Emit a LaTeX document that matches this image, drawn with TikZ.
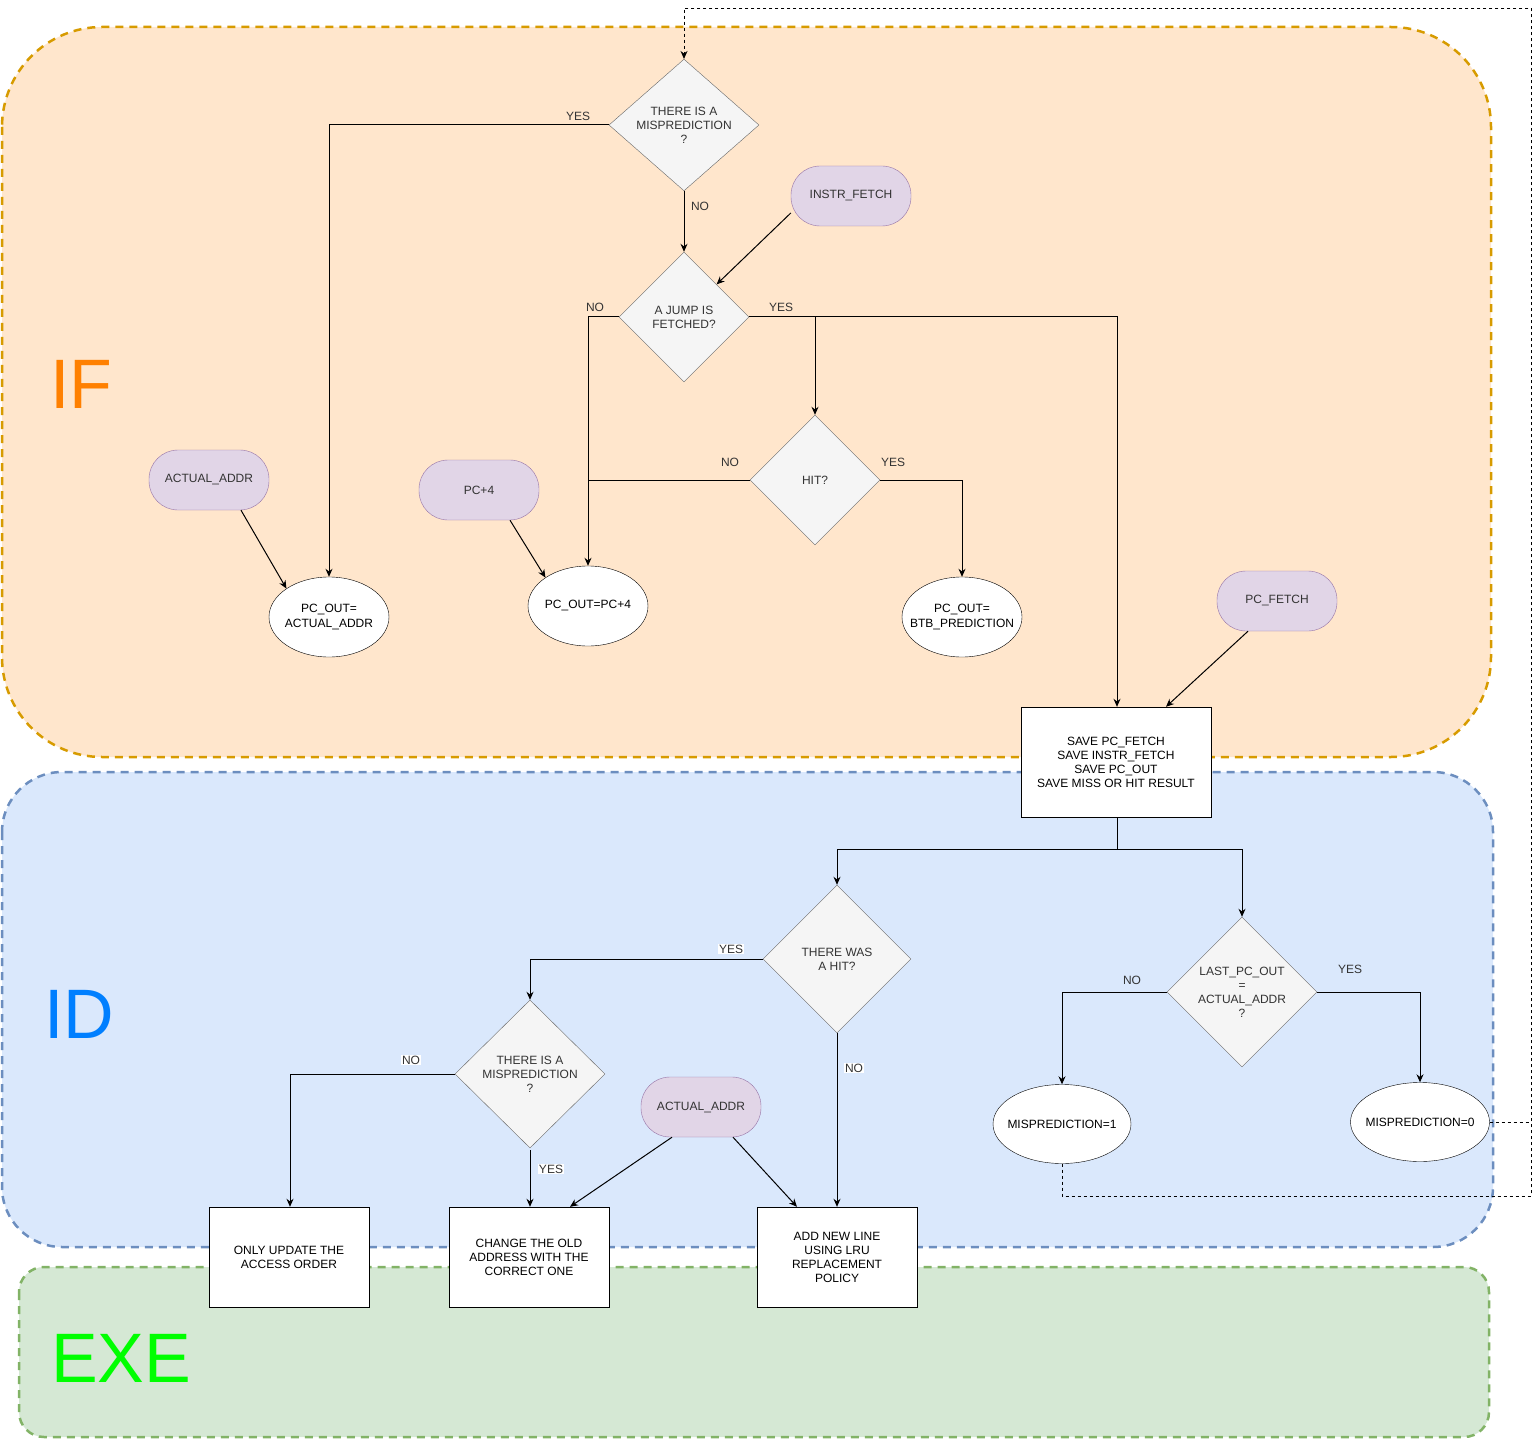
\documentclass[tikz,border=0pt]{standalone}
\usepackage{fontspec}
\setmainfont{Liberation Sans}
\usetikzlibrary{shapes.geometric,arrows.meta,calc}
\definecolor{iffill}{HTML}{FFE6CC}
\definecolor{ifdraw}{HTML}{D79B00}
\definecolor{idfill}{HTML}{DAE8FC}
\definecolor{iddraw}{HTML}{6C8EBF}
\definecolor{exfill}{HTML}{D5E8D4}
\definecolor{exdraw}{HTML}{82B366}
\definecolor{dfill}{HTML}{F5F5F5}
\definecolor{ddraw}{HTML}{666666}
\definecolor{tgray}{HTML}{333333}
\definecolor{pfill}{HTML}{E1D5E7}
\definecolor{pdraw}{HTML}{9673A6}
\definecolor{ifcol}{HTML}{FF8000}
\definecolor{idcol}{HTML}{007FFF}
\definecolor{excol}{HTML}{00FF00}
\begin{document}
\begin{tikzpicture}[x=1pt,y=-1pt,
  font=\fontsize{12}{14}\selectfont,
  lane/.style={line width=2.5pt, dash pattern=on 8pt off 6pt},
  dia/.style={diamond, draw=ddraw, fill=dfill, text=tgray, inner sep=0pt, align=center},
  pill/.style={rectangle, rounded corners=29pt, draw=pdraw, fill=pfill, text=tgray, minimum width=120pt, minimum height=60pt, inner sep=0pt},
  ell/.style={ellipse, draw=black, fill=white, text=black, inner xsep=-16pt, inner ysep=0pt, align=center, minimum width=120pt, minimum height=80pt},
  box/.style={rectangle, draw=black, fill=white, text=black, inner sep=0pt, align=center},
  arr/.style={draw=black, line width=1pt, -{Stealth[length=8pt,width=7pt]}},
  ln/.style={draw=black, line width=1pt},
  dot/.style={draw=black, line width=0.9pt, dash pattern=on 3pt off 3pt},
  lbl/.style={text=tgray, inner sep=1pt},
  wlbl/.style={text=tgray, fill=white, inner sep=1pt},
  big/.style={font=\fontsize{70}{76}\selectfont, anchor=base west, inner sep=0pt}
]
\useasboundingbox (0,0) rectangle (1540,1439);

% swimlanes
\draw[lane, draw=ifdraw, fill=iffill, rounded corners=100pt] (2,27) rectangle (1491,757);
\draw[lane, draw=iddraw, fill=idfill, rounded corners=60pt] (2,772) rectangle (1493,1247);
\draw[lane, draw=exdraw, fill=exfill, rounded corners=25pt] (19,1267) rectangle (1489,1437);
\node[big, text=ifcol] (tif) at (50,408) {IF};
\node[big, text=idcol] (tid) at (44,1038) {ID};
\node[big, text=excol] (tex) at (51,1382) {EXE};

% IF nodes
\node[dia, minimum width=150pt, minimum height=128pt] (d1) at (684,125) {THERE IS A\\MISPREDICTION\\?};
\node[dia, minimum width=130pt, minimum height=130pt] (d2) at (684,317) {A JUMP IS\\FETCHED?};
\node[pill] (instr) at (851,196) {INSTR\_FETCH};
\node[dia, minimum width=130pt, minimum height=130pt] (d3) at (815,480) {HIT?};
\node[pill] (aa) at (209,480) {ACTUAL\_ADDR};
\node[pill] (p4) at (479,490) {PC+4};
\node[ell] (pa) at (329,617) {PC\_OUT=\\ACTUAL\_ADDR};
\node[ell] (pp4) at (588,606) {PC\_OUT=PC+4};
\node[ell] (btb) at (962,617) {PC\_OUT=\\BTB\_PREDICTION};
\node[pill] (pf) at (1277,601) {PC\_FETCH};
\node[box, minimum width=190pt, minimum height=110pt] (save) at (1116,762) {SAVE PC\_FETCH\\SAVE INSTR\_FETCH\\SAVE PC\_OUT\\SAVE MISS OR HIT RESULT};

% ID nodes
\node[dia, minimum width=148pt, minimum height=148pt] (d4) at (837,959) {THERE WAS\\A HIT?};
\node[dia, minimum width=150pt, minimum height=150pt] (d5) at (1242,992) {LAST\_PC\_OUT\\=\\ACTUAL\_ADDR\\?};
\node[ell, minimum width=138pt, minimum height=79pt] (m1) at (1062,1124) {MISPREDICTION=1};
\node[ell, minimum width=139pt, minimum height=79pt] (m0) at (1420,1122) {MISPREDICTION=0};
\node[dia, minimum width=150pt, minimum height=148pt] (d6) at (530,1074) {THERE IS A\\MISPREDICTION\\?};
\node[pill] (aid) at (701,1107) {ACTUAL\_ADDR};
\node[box, minimum width=160pt, minimum height=100pt] (only) at (289,1257) {ONLY UPDATE THE\\ACCESS ORDER};
\node[box, minimum width=160pt, minimum height=100pt] (chg) at (529,1257) {CHANGE THE OLD\\ADDRESS WITH THE\\CORRECT ONE};
\node[box, minimum width=160pt, minimum height=100pt] (add) at (837,1257) {ADD NEW LINE\\USING LRU\\REPLACEMENT\\POLICY};

% IF connectors
\draw[arr] (d1.west) -| (pa.north);
\draw[arr] (d1.south) -- (d2.north);
\draw[arr] ([yshift=-17pt]instr.west) -- (d2.north east);
\draw[arr] (d2.west) -| (pp4.north);
\draw[arr] (d2.east) -| ([xshift=1pt]save.north);
\draw[arr] (d2.east -| d3.north) -- (d3.north);
\draw[ln] (d3.west) -- (d3.west -| pp4.north);
\draw[arr] (d3.east) -| (btb.north);
\draw[arr] ([xshift=32pt]aa.south) -- (pa.north west);
\draw[arr] ([xshift=31pt]p4.south) -- (pp4.north west);
\draw[arr] ([xshift=-29pt]pf.south) -- ([xshift=50pt]save.north);

% ID connectors
\coordinate (j1) at ($(save.south)+(1,32)$);
\draw[ln] ([xshift=1pt]save.south) -- (j1);
\draw[arr] (j1) -| (d4.north);
\draw[arr] (j1) -| (d5.north);
\draw[arr] (d4.west) -| (d6.north);
\draw[arr] (d4.south) -- (add.north);
\draw[arr] (d6.west) -| ([xshift=1pt]only.north);
\draw[arr, shorten <=2pt] (d6.south) -- ([xshift=1pt]chg.north);
\draw[arr] ([xshift=-29pt]aid.south) -- ([xshift=41pt]chg.north);
\draw[arr] ([xshift=32pt]aid.south) -- ([xshift=-40pt]add.north);
\draw[arr] (d5.west) -| (m1.north);
\draw[arr] (d5.east) -| (m0.north);

% feedback (dotted)
\coordinate (c1) at (1531,8);
\coordinate (c2) at (1531,1196);
\draw[dot, -{Stealth[length=8pt,width=7pt]}] (m0.east) -| (c1) -| (d1.north);
\draw[dot] (m1.south) |- (c2) -- (c2 |- m0.east);

% edge labels
\node[lbl] (l1) at (578,116) {YES};
\node[lbl] (l2) at (700,206) {NO};
\node[lbl] (l3) at (595,307) {NO};
\node[lbl] (l4) at (781,307) {YES};
\node[lbl] (l5) at (730,462) {NO};
\node[lbl] (l6) at (893,462) {YES};
\node[wlbl] (l7) at (731,949) {YES};
\node[wlbl] (l8) at (854,1068) {NO};
\node[wlbl] (l9) at (411,1060) {NO};
\node[wlbl] (l10) at (551,1169) {YES};
\node[lbl] (l11) at (1132,980) {NO};
\node[lbl] (l12) at (1350,969) {YES};
\end{tikzpicture}
\end{document}
